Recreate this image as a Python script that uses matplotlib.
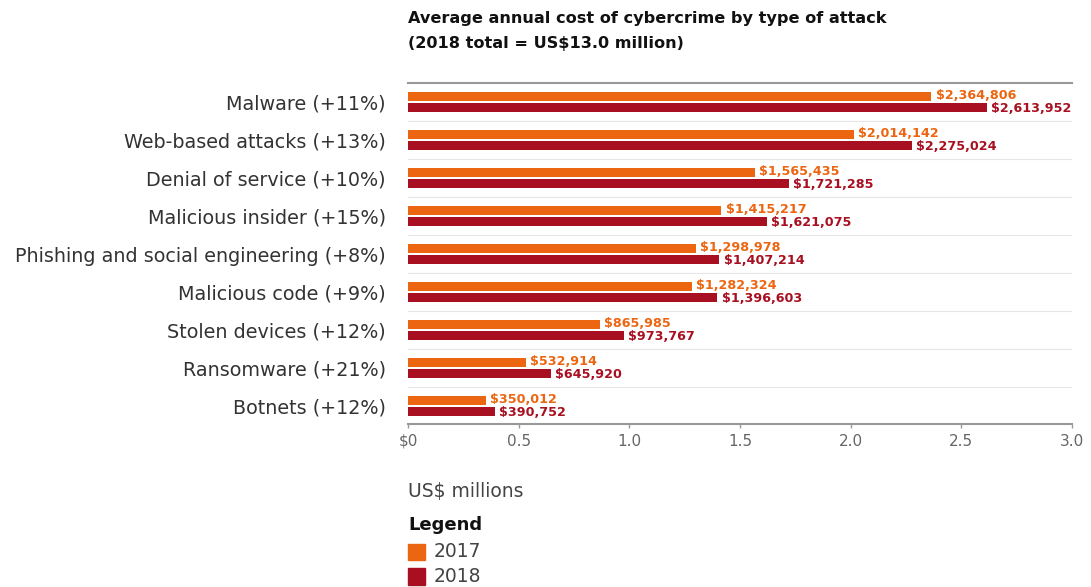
import numpy as np
import matplotlib.pyplot as plt

attacks = ["Malware (+11%)", "Web-based attacks (+13%)", "Denial of service (+10%)",
           "Malicious insider (+15%)", "Phishing and social engineering (+8%)",
           "Malicious code (+9%)", "Stolen devices (+12%)", "Ransomware (+21%)",
           "Botnets (+12%)"]
cost_2017 = [2364806, 2014142, 1565435, 1415217, 1298978, 1282324, 865985, 532914, 350012]
cost_2018 = [2613952, 2275024, 1721285, 1621075, 1407214, 1396603, 973767, 645920, 390752]
ticks = [0, 0.5, 1.0, 1.5, 2.0, 2.5, 3.0]
tick_labels = ["$0", "0.5", "1.0", "1.5", "2.0", "2.5", "3.0"]

orange = "#EC6611"
red = "#A80F20"

fig = plt.figure(figsize=(10.91, 5.87), dpi=100)
ax = fig.add_axes([0.374, 0.2777, 0.6086, 0.5809])

y = np.arange(len(attacks))
h = 0.25
off = 0.145
v17 = np.array(cost_2017) / 1e6
v18 = np.array(cost_2018) / 1e6
ax.barh(y - off, v17, height=h, color=orange, zorder=3)
ax.barh(y + off, v18, height=h, color=red, zorder=3)

for yi, a, b, ra, rb in zip(y, v17, v18, cost_2017, cost_2018):
    ax.text(a + 0.02, yi - off - 0.03, f"${ra:,}", color=orange, fontsize=9.2,
            fontweight="bold", va="center", ha="left")
    ax.text(b + 0.02, yi + off + 0.02, f"${rb:,}", color=red, fontsize=9.2,
            fontweight="bold", va="center", ha="left")

# light separators between attack groups
for s in y[:-1] + 0.5:
    ax.axhline(s, color="#E6E6E6", lw=0.8, zorder=1)

ax.set_xlim(0, 3.0)
ax.set_ylim(8.47, -0.5)
ax.set_yticks(y)
ax.set_yticklabels(attacks, fontsize=13.8, color="#333333")
ax.tick_params(axis="y", length=0, pad=16)
ax.set_xticks(ticks)
ax.set_xticklabels(tick_labels, fontsize=11, color="#666666")
ax.tick_params(axis="x", length=3, width=1, color="#999999", pad=4)

for side in ["left", "right"]:
    ax.spines[side].set_visible(False)
ax.spines["top"].set_color("#999999")
ax.spines["top"].set_linewidth(1.5)
ax.spines["bottom"].set_color("#999999")
ax.spines["bottom"].set_linewidth(1.5)

fig.text(0.374, 0.968, "Average annual cost of cybercrime by type of attack",
         fontsize=11.6, fontweight="bold", color="#111111", va="center")
fig.text(0.374, 0.926, "(2018 total = US$13.0 million)",
         fontsize=11.6, fontweight="bold", color="#111111", va="center")

fig.text(0.374, 0.162, "US$ millions", fontsize=13.5, color="#444444", va="center")
fig.text(0.374, 0.106, "Legend", fontsize=13, fontweight="bold", color="#111111", va="center")
for yy, col, lab in [(0.060, orange, "2017"), (0.018, red, "2018")]:
    fig.patches.append(plt.Rectangle((0.374, yy - 0.014), 0.016, 0.028,
                                     transform=fig.transFigure, color=col, figure=fig))
    fig.text(0.397, yy, lab, fontsize=13.5, color="#444444", va="center")

fig.savefig("out.png", dpi=100)
